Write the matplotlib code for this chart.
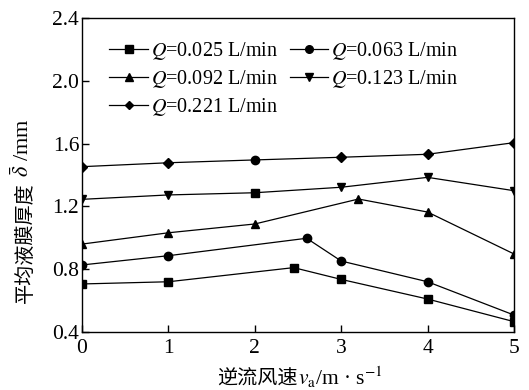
import numpy as np
import matplotlib
matplotlib.use('Agg')
import matplotlib.pyplot as plt
from matplotlib.lines import Line2D

plt.rcParams['font.family'] = ['Liberation Serif', 'Noto Sans CJK SC']
plt.rcParams['mathtext.fontset'] = 'stix'

# data
labels = ['0.025', '0.063', '0.092', '0.123', '0.221']
markers = ['s', 'o', '^', 'v', 'D']

x_025 = [0, 1, 2.45, 3, 4, 5]
y_025 = [0.706, 0.72, 0.81, 0.735, 0.61, 0.466]
x_063 = [0, 1, 2.6, 3, 4, 5]
y_063 = [0.827, 0.886, 0.997, 0.852, 0.72, 0.508]
x_092 = [0, 1, 2, 3.2, 4, 5]
y_092 = [0.96, 1.032, 1.088, 1.247, 1.164, 0.897]
x_123 = [0, 1, 2, 3, 4, 5]
y_123 = [1.245, 1.273, 1.287, 1.322, 1.385, 1.30]
x_221 = [0, 1, 2, 3, 4, 5]
y_221 = [1.453, 1.478, 1.496, 1.513, 1.532, 1.606]

# the original figure has a couple of odd markers, kept as drawn
pt_markers = [
    ['s'] * 6,
    ['o'] * 6,
    ['^'] * 6,
    ['v', 'v', 's', 'v', 'v', 'v'],
    ['D', 'D', 'o', 'D', 'D', 'D'],
]

xs = [x_025, x_063, x_092, x_123, x_221]
ys = [y_025, y_063, y_092, y_123, y_221]

def msize(m):
    return 5.0 if m == 'D' else 6.0

fig = plt.figure(figsize=(5.29, 3.90), dpi=100)
ax = fig.add_axes([82/529, 1 - 332/390, (514 - 82)/529, (332 - 18)/390])

for x, y, pm in zip(xs, ys, pt_markers):
    ax.plot(x, y, color='black', lw=0.9, zorder=2)
    for xi, yi, m in zip(x, y, pm):
        ax.plot(xi, yi, marker=m, color='black', ms=msize(m), ls='none', zorder=3)

handles = [Line2D([], [], color='black', lw=0.9, marker=m, ms=msize(m) - 0.5)
           for m in markers]
names = ['$Q$=%s L/min' % s for s in labels]
order = [0, 2, 4, 1, 3]   # row-wise fill in 2 columns
ax.legend([handles[i] for i in order], [names[i] for i in order],
          loc='upper left', ncol=2, frameon=False,
          fontsize=14.5, handlelength=1.9, handletextpad=0.15,
          columnspacing=0.6, labelspacing=0.3,
          bbox_to_anchor=(0.045, 0.955), borderaxespad=0)

ax.set_xlim(0, 5)
ax.set_ylim(0.4, 2.4)
ax.set_xticks(range(6))
ax.set_yticks([0.4, 0.8, 1.2, 1.6, 2.0, 2.4])
ax.set_yticklabels(['0.4', '0.8', '1.2', '1.6', '2.0', '2.4'])
ax.tick_params(direction='in', length=5, width=1, labelsize=15.5, pad=2)
ax.tick_params(axis='x', pad=5)
for s in ax.spines.values():
    s.set_linewidth(1.0)

# axis labels: Chinese part and math part as separate texts
fig.text(298/529, 1 - 379/390, '逆流风速', fontsize=14.5,
         family='Noto Sans CJK SC', ha='right', va='center')
fig.text(298/529, 1 - 377/390, '$v_\\mathrm{a}$/m · s$^{-1}$', fontsize=15.5,
         ha='left', va='center')
fig.text(25/529, 1 - 182/390, '平均液膜厚度', fontsize=14.5, rotation=90,
         family='Noto Sans CJK SC', ha='center', va='top')
fig.text(23/529, 1 - 182/390, ' $\\bar{\\delta}$ /mm', fontsize=16,
         rotation=90, ha='center', va='bottom')

fig.savefig('out.png', dpi=100)
